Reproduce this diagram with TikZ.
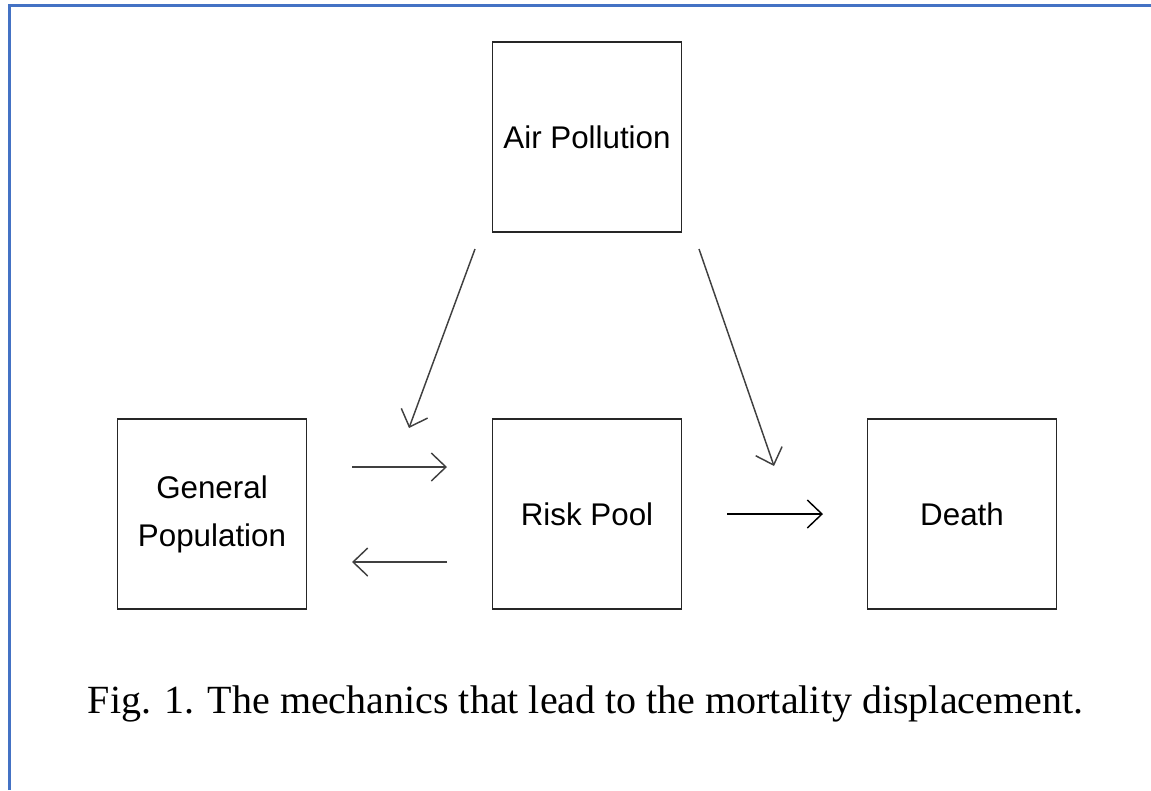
\documentclass[tikz,border=0pt]{standalone}
\usepackage{fontspec}
\setmainfont{Liberation Serif}
\newfontfamily\arialfont{Liberation Sans}
\usetikzlibrary{arrows.meta}
\definecolor{frameblue}{RGB}{68,114,196}
\tikzset{
  box/.style={draw=black!85, line width=1.3pt, rectangle, inner sep=0pt,
    minimum width=141.75pt, minimum height=142.5pt, align=center,
    font=\arialfont\fontsize{23.5}{36}\selectfont},
  arr/.style={draw=black!75, line width=1.1pt,
    -{Straight Barb[length=11pt,width=21pt,line width=1.1pt]}},
  arrdark/.style={arr, draw=black}
}
\begin{document}
\begin{tikzpicture}[x=0.75pt,y=-0.75pt]
\useasboundingbox (0,0) rectangle (1151,790);
% partial blue frame
\draw[frameblue, line width=2.2pt] (9.5,790) -- (9.5,5.3) -- (1151,5.3);
% boxes
\node[box] (air) at (587,137) {Air Pollution};
\node[box] (gen) at (212,514) {General\\Population};
\node[box] (risk) at (587,514) {Risk Pool};
\node[box] (death) at (962,514) {Death};
% arrow end points
\coordinate (a1s) at (475,249);
\coordinate (a1e) at (409,428);
\coordinate (a2s) at (699,249);
\coordinate (a2e) at (774,466);
\coordinate (g2rs) at (352,467);
\coordinate (g2re) at (447,467);
\coordinate (r2gs) at (447,562);
\coordinate (r2ge) at (352,562);
\coordinate (r2ds) at (727,514);
\coordinate (r2de) at (823,514);
\draw[arr] (a1s) -- (a1e);
\draw[arr] (a2s) -- (a2e);
\draw[arr] (g2rs) -- (g2re);
\draw[arr] (r2gs) -- (r2ge);
\draw[arrdark] (r2ds) -- (r2de);
% caption
\node[anchor=base, inner sep=0pt, font=\fontsize{30}{36}\selectfont] (cap) at (585.5,713)
  {Fig. 1. The mechanics that lead to the mortality displacement.};
\end{tikzpicture}
\end{document}
